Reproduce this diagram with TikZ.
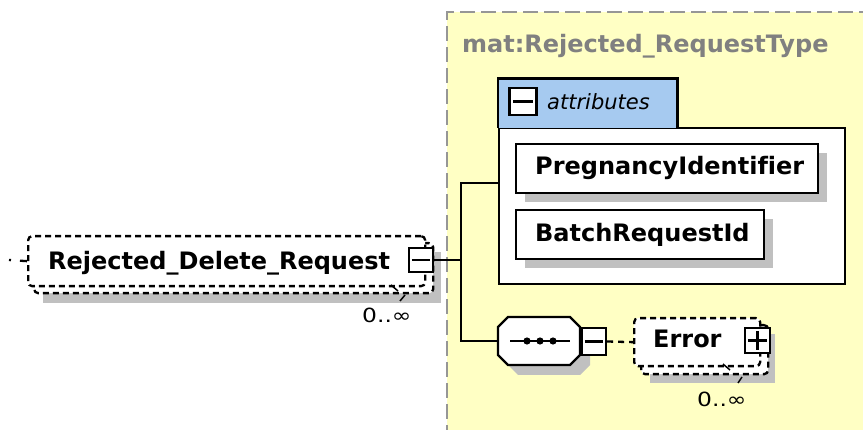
\documentclass[tikz,border=0pt]{standalone}
\usepackage{fontspec}
\setmainfont[Ligatures=CommonOff]{DejaVu Sans}
\definecolor{bgyellow}{RGB}{255,255,196}
\definecolor{ybord}{RGB}{150,150,150}
\definecolor{titlegray}{RGB}{128,128,128}
\definecolor{tabblue}{RGB}{166,202,240}
\definecolor{shadowgray}{RGB}{192,192,192}
\begin{document}
\begin{tikzpicture}[x=1pt,y=-1pt,
  lw/.style={line width=2.3pt},
  bigtxt/.style={font=\bfseries\fontsize{24}{26}\selectfont, inner sep=0pt, anchor=base west},
  multxt/.style={font=\fontsize{19.5}{21}\selectfont, inner sep=0pt, anchor=base west},
  boxdash/.style={lw, dash pattern=on 6pt off 4pt, rounded corners=4pt, fill=white},
  plainbox/.style={draw, lw, fill=white, inner sep=0pt, anchor=north west},
  iconbox/.style={draw, lw, fill=white, inner sep=0pt},
  conn/.style={lw}]
\useasboundingbox (0,0) rectangle (863,430);
% yellow complex type area
\fill[bgyellow] (447,12) rectangle (880,440);
\draw[ybord, line width=2.2pt, dash pattern=on 15pt off 6pt] (447,440) -- (447,12) -- (880,12);
\node[bigtxt, text=titlegray] (title) at (462,53) {mat:Rejected\_RequestType};
% attributes group
\node[plainbox, minimum width=346pt, minimum height=156pt] (attrs) at (498,127) {};
\node[fill=tabblue, inner sep=0pt, minimum width=179pt, minimum height=49pt, anchor=south west] (tab) at (498,128) {};
\draw[lw] (tab.south west) -- (tab.north west) -- (tab.north east) -- (tab.south east);
\node[iconbox, minimum width=27pt, minimum height=27pt] (tabminus) at (523,101.5) {};
\draw[lw] ([xshift=5pt]tabminus.west) -- ([xshift=-5pt]tabminus.east);
\node[font=\itshape\fontsize{21}{23}\selectfont, inner sep=0pt, anchor=base west] (attrlbl) at (547,110) {attributes};
% attribute boxes
\fill[shadowgray] (525,153) rectangle (827,202);
\node[plainbox, minimum width=302pt, minimum height=49pt] (preg) at (515,143) {};
\node[bigtxt] (pregt) at (535,175) {PregnancyIdentifier};
\fill[shadowgray] (525,219) rectangle (773,268);
\node[plainbox, minimum width=248pt, minimum height=49pt] (batch) at (515,209) {};
\node[bigtxt] (batcht) at (535,242) {BatchRequestId};
% root element
\fill[shadowgray] (43,252) rectangle (441,303);
\node[draw, boxdash, minimum width=399pt, minimum height=50pt, anchor=north west, inner sep=0pt] (elemback) at (33,242) {};
\node[draw, boxdash, minimum width=397pt, minimum height=50pt, anchor=north west, inner sep=0pt] (elem) at (27,235) {};
\node[bigtxt] (elemt) at (48,270) {Rejected\_Delete\_Request};
\node[iconbox, minimum width=24pt, minimum height=24pt] (elemminus) at (421,260) {};
\draw[lw] ([xshift=4pt]elemminus.west) -- ([xshift=-4pt]elemminus.east);
\draw[line width=1.5pt] (391,285) -- (398,291);
\draw[line width=1.5pt] (400,301) -- (405,295);
\node[multxt] (elemmul) at (362,323) {\scalebox{1.2}[1]{0..∞}};
\coordinate (lft) at (9,260);
\draw[lw, dash pattern=on 2pt off 9pt on 9pt off 0pt] (lft) -- (elem.west);
% connectors
\coordinate (j) at (461,260);
\coordinate (ja) at (461,183);
\draw[conn] (elemminus.east) -- (j);
% sequence compositor
\fill[shadowgray] (518,327) -- (580,327) -- (590,337) -- (590,365) -- (580,375) -- (518,375) -- (508,365) -- (508,337) -- cycle;
\node[inner sep=0pt, minimum width=82pt, minimum height=48pt] (seq) at (539,341) {};
\filldraw[lw, fill=white] (508,317) -- (570,317) -- (580,327) -- (580,355) -- (570,365) -- (508,365) -- (498,355) -- (498,327) -- cycle;
\draw[conn] (seq.west) -| (ja) -- (ja -| attrs.west);
\draw[conn] (j) -- (ja);
\draw[lw] (510,341) -- (570,341);
\foreach \dx in {527,540,553} \fill (\dx,341) circle (3.6pt);
\node[iconbox, minimum width=24pt, minimum height=27pt] (seqminus) at (594,341.5) {};
\draw[lw] ([xshift=4pt]seqminus.west) -- ([xshift=-4pt]seqminus.east);
% Error element
\fill[shadowgray] (650,334) rectangle (775,383);
\node[draw, boxdash, minimum width=127pt, minimum height=49pt, anchor=north west, inner sep=0pt] (errback) at (640,324) {};
\node[draw, boxdash, minimum width=126pt, minimum height=48pt, anchor=north west, inner sep=0pt] (err) at (633,317) {};
\draw[lw, dash pattern=on 6pt off 5pt] (seqminus.east) -- (err.west);
\node[bigtxt] (errt) at (653,348) {Error};
\node[iconbox, minimum width=25pt, minimum height=25pt] (errplus) at (757.5,340.5) {};
\draw[lw] ([xshift=4pt]errplus.west) -- ([xshift=-4pt]errplus.east);
\draw[lw] ([yshift=-4pt]errplus.north) -- ([yshift=4pt]errplus.south);
\draw[line width=1.5pt] (723,364) -- (730,370);
\draw[line width=1.5pt] (738,383) -- (742,377);
\node[multxt] (errmul) at (697,407) {\scalebox{1.2}[1]{0..∞}};
\end{tikzpicture}
\end{document}
